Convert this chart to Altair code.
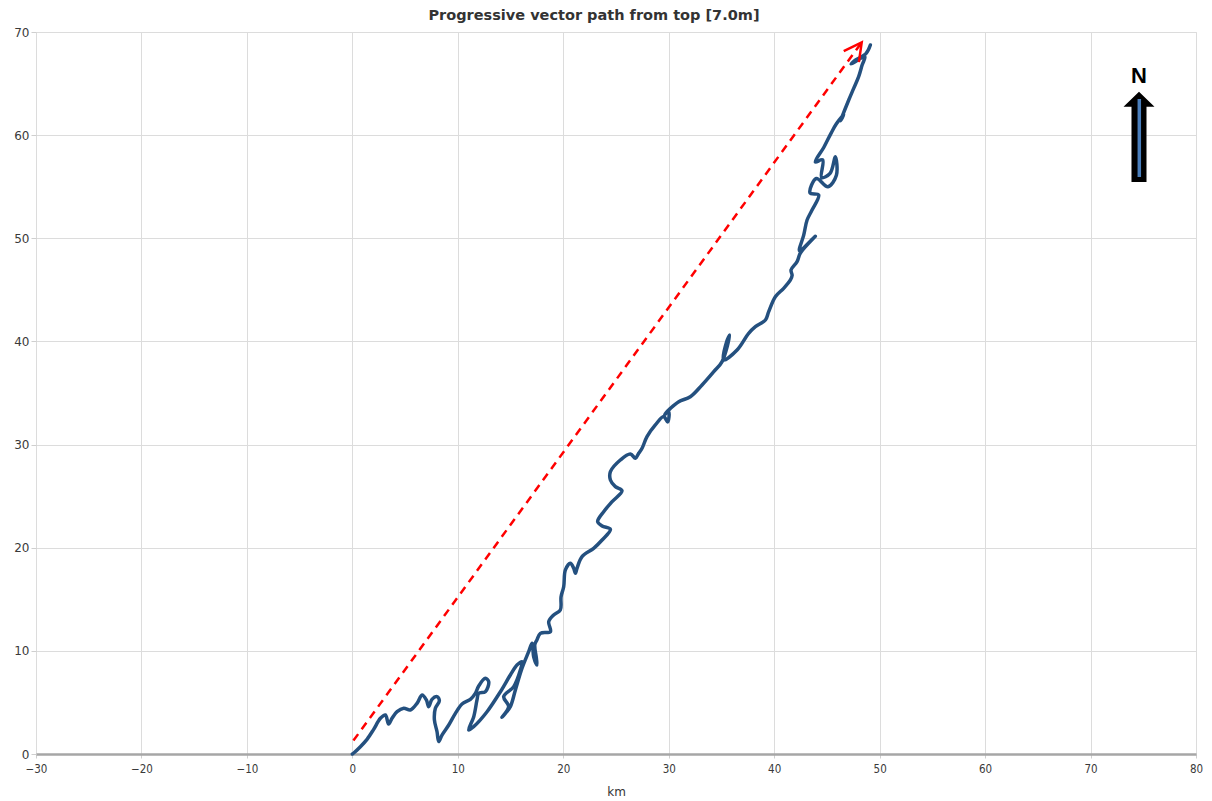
import math
import altair as alt
import pandas as pd

# Progressive vector path (km east, km north) from the surface bin
path_x = [0.0, 0.13, 0.76, 1.39, 2.02, 2.66, 3.13, 3.44, 3.76, 4.24, 4.87, 5.50, 6.13, 6.61,
          7.02, 7.24, 7.55, 8.03, 8.25, 7.87, 7.78, 8.03, 8.19, 8.50, 9.14, 9.77, 10.40, 11.19,
          11.66, 11.98, 12.61, 12.93, 12.61, 11.98, 11.82, 11.51, 11.03, 11.50, 12.77, 14.04,
          14.98, 15.61, 16.09, 15.93, 15.30, 14.35, 14.82, 14.19, 14.51, 14.98, 15.46, 16.09,
          16.72, 17.04, 17.20, 17.50, 17.45, 17.30, 17.50, 17.83, 18.78, 18.62, 19.09, 19.72,
          19.79, 20.04, 20.20, 20.67, 20.99, 21.15, 21.30, 21.78, 22.88, 23.68, 24.47, 23.68,
          23.26, 23.83, 24.63, 25.57, 24.94, 24.47, 24.47, 25.41, 26.36, 26.84, 27.15, 27.47,
          27.94, 28.73, 29.52, 29.90, 30.00, 29.60, 30.16, 30.95, 32.05, 33.16, 34.27, 35.06,
          35.78, 35.50, 35.21, 36.48, 37.58, 38.22, 39.17, 39.48, 40.11, 40.90, 41.54, 41.70,
          41.60, 42.17, 42.50, 43.90, 43.60, 42.40, 42.80, 43.12, 43.59, 44.22, 43.40, 44.00,
          45.10, 45.90, 45.80, 45.30, 44.50, 44.60, 43.90, 44.70, 45.40, 45.90, 46.60, 46.30,
          46.44, 47.07, 47.54, 48.01, 48.34, 48.60, 47.30, 47.60, 48.70, 49.12]
path_y = [0.0, 0.10, 0.71, 1.42, 2.39, 3.46, 3.78, 2.91, 3.46, 4.10, 4.43, 4.27, 4.91, 5.72,
          5.24, 4.59, 5.30, 5.56, 5.17, 4.43, 3.30, 2.16, 1.20, 1.84, 2.81, 3.94, 4.85, 5.30,
          5.88, 6.59, 7.34, 7.01, 6.04, 5.88, 5.24, 3.62, 2.33, 2.65, 4.10, 6.04,
          7.66, 8.63, 8.95, 8.14, 6.53, 5.56, 4.59, 3.55, 3.94, 4.59, 6.21, 8.31,
          9.92, 10.73, 9.40, 8.63, 9.30, 10.60, 11.05, 11.70, 11.86, 12.83, 13.48, 13.96,
          15.25, 16.22, 17.84, 18.49, 18.00, 17.52, 18.00, 19.13, 19.94, 20.75, 21.78, 22.11,
          22.53, 23.49, 24.46, 25.53, 25.92, 26.57, 27.37, 28.50, 29.09, 28.67, 29.15, 29.64,
          30.77, 31.90, 32.71, 32.20, 33.20, 32.90, 33.51, 34.16, 34.64, 35.78, 37.07, 38.04,
          40.62, 40.00, 38.20, 39.17, 40.79, 41.43, 42.08, 42.89, 44.34, 45.15, 45.96, 46.40,
          46.93, 47.73, 48.60, 50.20, 49.90, 48.80, 50.30, 51.77, 52.74, 54.20, 54.40, 55.80,
          55.00, 56.10, 57.90, 56.30, 55.90, 57.60, 57.40, 58.80, 60.20, 61.10, 62.00, 61.40,
          61.79, 63.41, 64.54, 65.67, 66.80, 67.60, 66.90, 67.20, 67.90, 68.74]

# Net displacement vector (start, end) in km
vec_x = [0.1, 48.3]
vec_y = [1.3, 69.0]

X_DOMAIN = [-30, 80]
Y_DOMAIN = [0, 70]
W, H = 1160, 722

path_df = pd.DataFrame({"x": path_x, "y": path_y, "i": list(range(len(path_x)))})
vec_df = pd.DataFrame({"x": vec_x, "y": vec_y})
tip_df = pd.DataFrame({"x": [vec_x[1]], "y": [vec_y[1]]})

# Rotation of the arrowhead so that it follows the vector on screen
sx = W / (X_DOMAIN[1] - X_DOMAIN[0])
sy = H / (Y_DOMAIN[1] - Y_DOMAIN[0])
head_angle = math.degrees(math.atan2((vec_x[1] - vec_x[0]) * sx, (vec_y[1] - vec_y[0]) * sy))

x_scale = alt.Scale(domain=X_DOMAIN, nice=False, zero=False)
y_scale = alt.Scale(domain=Y_DOMAIN, nice=False, zero=False)

x_axis = alt.Axis(
    title="km", values=list(range(-30, 81, 10)), labelFlush=False,
    grid=True, gridColor="#dcdcdc", gridWidth=1,
    domainColor="#a6a6a6", domainWidth=2.5,
    tickSize=4, tickColor="#cfcfcf",
    labelFont="Liberation Sans Narrow, DejaVu Sans Condensed, Liberation Sans",
    labelFontSize=11.5, labelColor="#3a3a3a", labelPadding=5,
    titleFont="DejaVu Sans", titleFontSize=12, titleFontWeight="normal",
    titleColor="#333", titlePadding=12,
)
y_axis = alt.Axis(
    title=None, values=list(range(0, 71, 10)),
    grid=True, gridColor="#dcdcdc", gridWidth=1,
    domain=False, tickSize=5, tickColor="#cfcfcf",
    labelFont="DejaVu Sans", labelFontSize=12, labelColor="#3a3a3a", labelPadding=2,
)

track = alt.Chart(path_df).mark_line(
    color="#24507f", strokeWidth=3.5, strokeCap="round", strokeJoin="round",
    interpolate="catmull-rom",
).encode(
    x=alt.X("x:Q", scale=x_scale, axis=x_axis),
    y=alt.Y("y:Q", scale=y_scale, axis=y_axis),
    order="i:Q",
)

vector = alt.Chart(vec_df).mark_line(
    color="#ff0000", strokeWidth=2.5, strokeDash=[8, 6]
).encode(x=alt.X("x:Q", scale=x_scale), y=alt.Y("y:Q", scale=y_scale))

head = alt.Chart(tip_df).mark_point(
    shape="M-0.53,1L0,0L0.53,1", size=1250, filled=False,
    stroke="#ff0000", strokeWidth=2.5, angle=head_angle, opacity=1,
).encode(x=alt.X("x:Q", scale=x_scale), y=alt.Y("y:Q", scale=y_scale))

# North arrow
one = pd.DataFrame({"k": [0]})
north_body = alt.Chart(one).mark_point(
    shape="M0,-2.913L1,-1.945L0.484,-1.945L0.484,2.913L-0.484,2.913L-0.484,-1.945L-1,-1.945Z",
    size=961, filled=True, color="black", opacity=1,
).encode(x=alt.value(1103), y=alt.value(104.85))
north_line = alt.Chart(one).mark_rule(color="#4a7ebb", strokeWidth=3.5).encode(
    x=alt.value(1103.3), y=alt.value(67), y2=alt.value(145)
)
north_text = alt.Chart(one).mark_text(
    text="N", font="Liberation Sans", fontWeight="bold", fontSize=22,
    color="black", align="center", baseline="alphabetic",
).encode(x=alt.value(1103), y=alt.value(51))

chart = alt.layer(track, vector, head, north_body, north_line, north_text).properties(
    width=W, height=H,
    title=alt.TitleParams(
        "Progressive vector path from top [7.0m]", font="DejaVu Sans", fontSize=14.5,
        fontWeight="bold", color="#333", offset=3, dx=-22,
    ),
    autosize=alt.AutoSizeParams(type="none"),
    padding={"left": 36, "top": 32, "right": 16, "bottom": 47},
).configure_view(stroke=None).configure(background="white")

chart.save("out.html", embed_options={"renderer": "svg", "actions": False})
